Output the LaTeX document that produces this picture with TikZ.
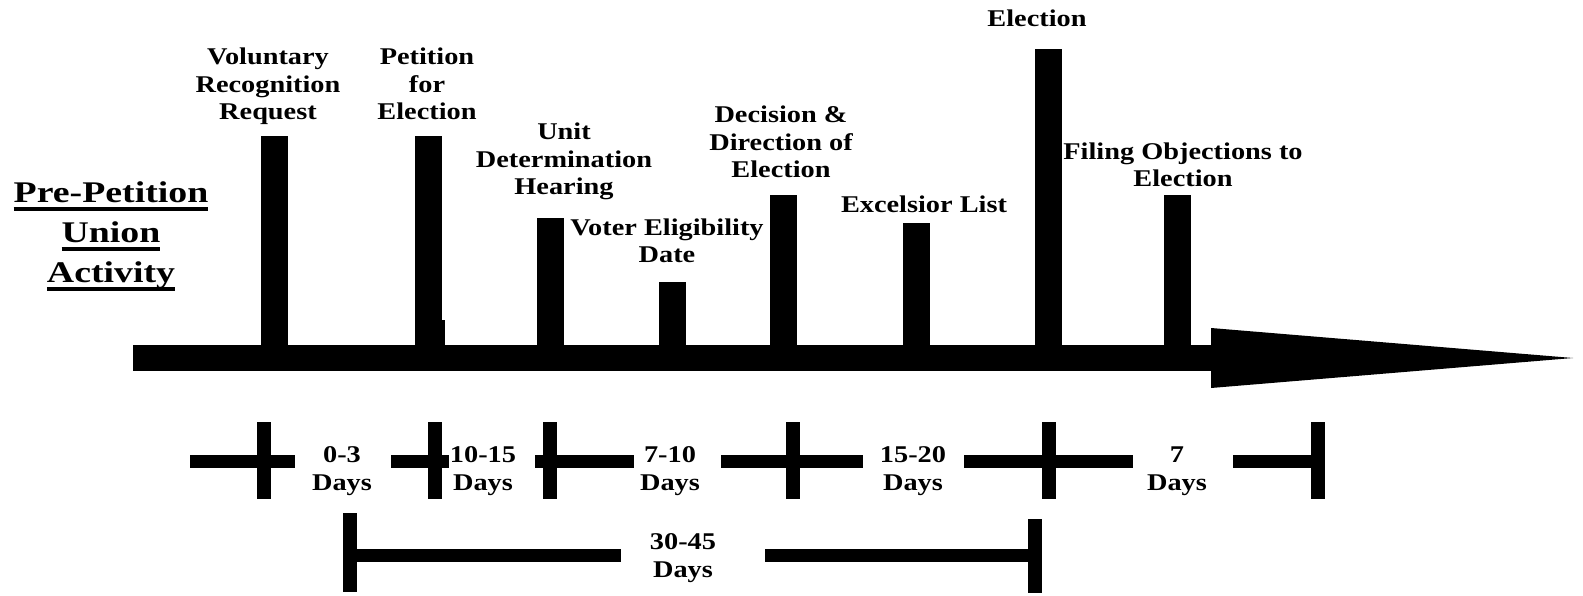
\documentclass[tikz,border=0pt]{standalone}
\usepackage{fontspec}
\setmainfont{Liberation Serif}
\newfontfamily\lblfont[FakeStretch=1.18]{Liberation Serif}
\newfontfamily\titlefont[FakeStretch=1.26]{Liberation Serif}
\usetikzlibrary{positioning}

\newcommand{\ulword}[1]{\setbox0=\hbox{#1}\rlap{\rule[-8pt]{\wd0}{4pt}}\box0}

\begin{document}
\begin{tikzpicture}[x=1pt, y=-1pt,
    bar/.style={fill=black},
    lbl/.style={font=\lblfont\bfseries\fontsize{24}{27.5}\selectfont, align=center, inner sep=0pt, anchor=base},
    title/.style={lbl, font=\titlefont\bfseries\fontsize{30}{40}\selectfont},
    seg/.style={line width=13pt},
    tick/.style={line width=14pt}
  ]
    \useasboundingbox (0,0) rectangle (1583,596);
    % time axis with its head
    \coordinate (axisL) at (133,358);
    \coordinate (axisR) at (1212,358);
    \coordinate (tip) at (1573,358);
    \draw[line width=26pt] (axisL) -- (axisR);
    \fill (1211,328) -- (tip) -- (1211,388) -- cycle;
    % milestone bars
    \foreach \x/\t in {274/136, 428/136, 550/218, 672/282, 783/195, 916/223, 1048/49, 1177/195}
      \fill[bar] (\x-13.5,\t) rectangle (\x+13.5,350);
    \fill[bar] (416,320) rectangle (445,350);
    \node[title] (prepet) at (111,283) {\ulword{Pre-Petition}\\\ulword{Union}\\\ulword{Activity}};
    \node[lbl] (volrec) at (268,120) {Voluntary\\Recognition\\Request};
    \node[lbl] (petel) at (427,120) {Petition\\for\\Election};
    \node[lbl] (unitdet) at (564,195) {Unit\\Determination\\Hearing};
    \node[lbl] (voter) at (667,263) {Voter Eligibility\\Date};
    \node[lbl] (decdir) at (781,178) {Decision \&\\Direction of\\Election};
    \node[lbl] (excel) at (924,213) {Excelsior List};
    \node[lbl] (elect) at (1037,27) {Election};
    \node[lbl] (filing) at (1183,187) {Filing Objections to\\Election};
    % day spans
    \foreach \a/\b in {190/295, 391/449, 535/634, 721/863, 964/1133, 1233/1324}
      \draw[seg] (\a,461.5) -- (\b,461.5);
    \foreach \x in {264,435,550,793,1049,1318}
      \draw[tick] (\x,422) -- (\x,499);
    \node[lbl] (d03) at (342,490) {0-3\\Days};
    \node[lbl] (d1015) at (483,490) {10-15\\Days};
    \node[lbl] (d710) at (670,490) {7-10\\Days};
    \node[lbl] (d1520) at (913,490) {15-20\\Days};
    \node[lbl] (d7) at (1177,490) {7\\Days};
    % total span
    \coordinate (totL) at (350,555.5);
    \coordinate (totR) at (1035,555.5);
    \draw[seg] (totL) -- (621,555.5);
    \draw[seg] (765,555.5) -- (totR);
    \draw[tick] (350,513) -- (350,592);
    \draw[tick] (1035,519) -- (1035,593);
    \node[lbl] (d3045) at (683,577) {30-45\\Days};
\end{tikzpicture}
\end{document}
